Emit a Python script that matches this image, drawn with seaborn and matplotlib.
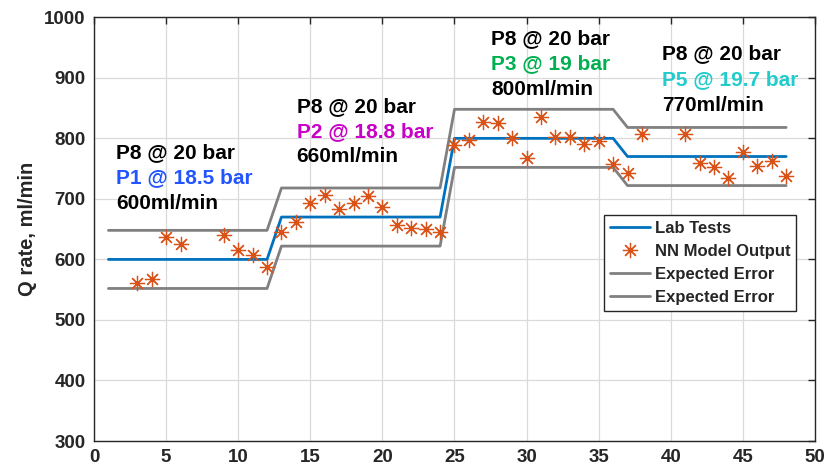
import matplotlib
matplotlib.use("Agg")
import matplotlib.pyplot as plt
import seaborn as sns
import pandas as pd

# ---- data ----
lab_x = [1, 12, 13, 24, 25, 36, 37, 48]
lab_y = [600, 600, 670, 670, 800, 800, 770, 770]
err_upper = [648, 648, 718, 718, 848, 848, 818, 818]
err_lower = [552, 552, 622, 622, 752, 752, 722, 722]

nn_x = [3, 4, 5, 6, 9, 10, 11, 12,
        13, 14, 15, 16, 17, 18, 19, 20, 21, 22, 23, 24,
        25, 26, 27, 28, 29, 30, 31, 32, 33, 34, 35, 36,
        37, 38, 41, 42, 43, 44, 45, 46, 47, 48]
nn_y = [561, 567, 637, 626, 640, 616, 607, 588,
        645, 662, 693, 706, 684, 694, 704, 686, 657, 652, 650, 646,
        789, 798, 827, 826, 800, 767, 835, 803, 803, 790, 795, 758,
        742, 807, 807, 760, 752, 734, 778, 754, 762, 738]

x_ticks = [0, 5, 10, 15, 20, 25, 30, 35, 40, 45, 50]
y_ticks = [300, 400, 500, 600, 700, 800, 900, 1000]

annot_lines = [
    ["P8 @ 20 bar", "P1 @ 18.5 bar", "600ml/min"],
    ["P8 @ 20 bar", "P2 @ 18.8 bar", "660ml/min"],
    ["P8 @ 20 bar", "P3 @ 19 bar", "800ml/min"],
    ["P8 @ 20 bar", "P5 @ 19.7 bar", "770ml/min"],
]
annot_colors = ["#2255FF", "#C800C8", "#00B050", "#22CCCC"]

# ---- style ----
sns.set_style("white")
plt.rcParams['font.family'] = ['Liberation Sans', 'DejaVu Sans']
plt.rcParams['font.weight'] = 'bold'

fig = plt.figure(figsize=(8.25, 4.68), dpi=100)
ax = fig.add_axes([94/825, 1 - 441/468, (815 - 94)/825, (441 - 17.3)/468])

lab_df = pd.DataFrame({"x": lab_x, "y": lab_y})
up_df = pd.DataFrame({"x": lab_x, "y": err_upper})
lo_df = pd.DataFrame({"x": lab_x, "y": err_lower})
nn_df = pd.DataFrame({"x": nn_x, "y": nn_y})

blue = "#0072BD"
orange = "#D95319"
gray = "#808080"

sns.lineplot(data=lab_df, x="x", y="y", ax=ax, color=blue, lw=2,
             sort=False, estimator=None, label="Lab Tests", zorder=3)
sns.lineplot(data=nn_df, x="x", y="y", ax=ax, color=orange, lw=0,
             linestyle="", marker=(8, 2, 0), markersize=11, markeredgewidth=0.9,
             markeredgecolor=orange, sort=False, estimator=None,
             label="NN Model Output", zorder=4)
sns.lineplot(data=up_df, x="x", y="y", ax=ax, color=gray, lw=2,
             sort=False, estimator=None, label="Expected Error", zorder=2)
sns.lineplot(data=lo_df, x="x", y="y", ax=ax, color=gray, lw=2,
             sort=False, estimator=None, label="Expected Error", zorder=2)

ax.set_xlim(0, 50)
ax.set_ylim(300, 1000)
ax.set_xticks(x_ticks)
ax.set_yticks(y_ticks)
ax.set_xticklabels([str(v) for v in x_ticks], fontsize=13.5, fontweight='bold', color="#262626")
ax.set_yticklabels([str(v) for v in y_ticks], fontsize=13.5, fontweight='bold', color="#262626")
ax.set_xlabel("")
ax.set_ylabel("Q rate, ml/min", fontsize=14.5, fontweight='bold', color="#262626", labelpad=5)

ax.grid(True, color="#DADADA", lw=0.9)
ax.set_axisbelow(True)
ax.tick_params(direction='in', top=True, right=True, length=5, width=1,
               colors="#262626", pad=6)
for s in ax.spines.values():
    s.set_color("#262626")
    s.set_linewidth(1.0)
    s.set_visible(True)

# annotations
pos_x = [1.53, 14.06, 27.53, 39.37]
pos_y = [[776.6, 734.5, 693.2],
         [852.3, 810.5, 769.2],
         [964.1, 922.8, 879.9],
         [939.4, 896.4, 853.5]]
for g in range(4):
    for i, txt in enumerate(annot_lines[g]):
        c = annot_colors[g] if i == 1 else "black"
        ax.text(pos_x[g], pos_y[g][i], txt, color=c, fontsize=15,
                fontweight='bold', va='center', ha='left', zorder=5)

leg = ax.legend(loc="upper left", bbox_to_anchor=(0.707, 0.533),
                frameon=True, fancybox=False,
                edgecolor="#262626", framealpha=1, borderpad=0.35,
                labelspacing=0.48, handlelength=2.4, handletextpad=0.3,
                borderaxespad=0,
                prop={'weight': 'bold', 'size': 12})
leg.get_frame().set_linewidth(1.0)

fig.savefig("out.png", dpi=100)
